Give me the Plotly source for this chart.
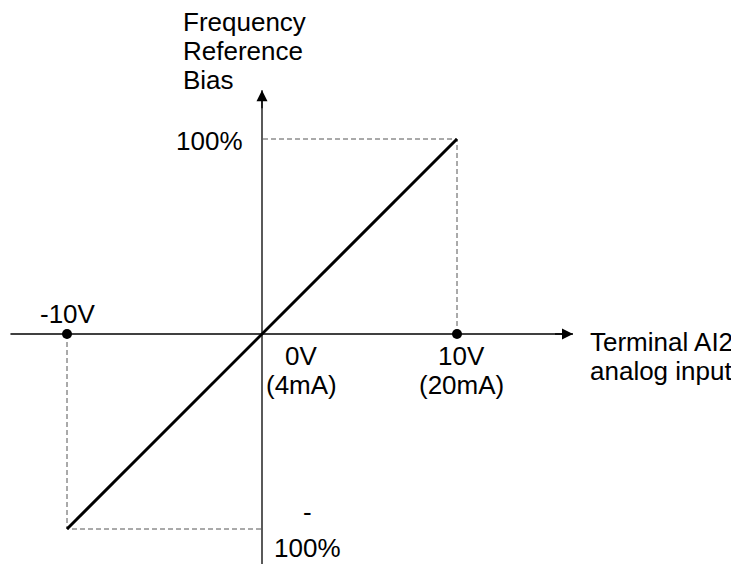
import plotly.graph_objects as go

# ---- data ----
line_x = [-10, 10]
line_y = [-100, 100]
dot_x = [-10, 10]
dot_y = [0, 0]
guide_pos_x = [10, 10, 0]
guide_pos_y = [0, 100, 100]
guide_neg_x = [-10, -10, 0]
guide_neg_y = [0, -100, -100]
x_axis_ext = [-12.9, 15.95]
y_axis_ext = [-118.0, 125.0]

OFF = 8                # browser body margin
W, H = 739 - OFF, 570 - OFF
ox, oy = 262 - OFF, 334 - OFF      # origin pixel inside figure
sx, sy = 19.5, 1.95    # px per unit


def X(px):
    return (px - OFF - ox) / sx


def Y(py):
    return (oy - (py - OFF)) / sy


FONT = "Liberation Sans, Arial, sans-serif"
FS = 26

fig = go.Figure()

# dashed guides
for gx, gy in [(guide_pos_x, guide_pos_y), (guide_neg_x, guide_neg_y)]:
    fig.add_trace(go.Scatter(x=gx, y=gy, mode="lines",
                             line=dict(color="#555555", width=1, dash="5px,3px"),
                             hoverinfo="skip", showlegend=False))

# axes lines
fig.add_trace(go.Scatter(x=x_axis_ext, y=[0, 0], mode="lines",
                         line=dict(color="black", width=1.3), showlegend=False, hoverinfo="skip"))
fig.add_trace(go.Scatter(x=[0, 0], y=y_axis_ext, mode="lines",
                         line=dict(color="black", width=1.3), showlegend=False, hoverinfo="skip"))

# main line
fig.add_trace(go.Scatter(x=line_x, y=line_y, mode="lines",
                         line=dict(color="black", width=3), showlegend=False))

# dots
fig.add_trace(go.Scatter(x=dot_x, y=dot_y, mode="markers",
                         marker=dict(color="black", size=10), showlegend=False))

# arrowheads
fig.add_annotation(x=x_axis_ext[1], y=0, ax=x_axis_ext[1] - 1, ay=0,
                   xref="x", yref="y", axref="x", ayref="y", text="",
                   showarrow=True, arrowhead=2, arrowsize=1.7, arrowwidth=1.3, arrowcolor="black")
fig.add_annotation(x=0, y=y_axis_ext[1], ax=0, ay=y_axis_ext[1] - 10,
                   xref="x", yref="y", axref="x", ayref="y", text="",
                   showarrow=True, arrowhead=2, arrowsize=1.7, arrowwidth=1.3, arrowcolor="black")


def label(text, px, py, xanchor="center"):
    fig.add_annotation(x=X(px), y=Y(py), xref="x", yref="y", text=text,
                       showarrow=False, xanchor=xanchor, yanchor="middle",
                       font=dict(family=FONT, size=FS, color="black"))


label("Frequency", 181, 22, xanchor="left")
label("Reference", 181, 51, xanchor="left")
label("Bias", 181, 80, xanchor="left")
label("100%", 245, 141, xanchor="right")
label("-10V", 68, 314)
label("0V", 301, 356)
label("(4mA)", 301, 385)
label("10V", 461, 356)
label("(20mA)", 461, 385)
label("-", 307, 512)
label("100%", 307, 548)
label("Terminal AI2", 588, 342, xanchor="left")
label("analog input", 588, 371, xanchor="left")

fig.update_layout(
    width=W, height=H,
    margin=dict(l=0, r=0, t=0, b=0),
    paper_bgcolor="white", plot_bgcolor="white",
    xaxis=dict(range=[X(OFF), X(OFF + W)], visible=False, fixedrange=True),
    yaxis=dict(range=[Y(OFF + H), Y(OFF)], visible=False, fixedrange=True),
    showlegend=False,
)

fig.write_html("out.html")
